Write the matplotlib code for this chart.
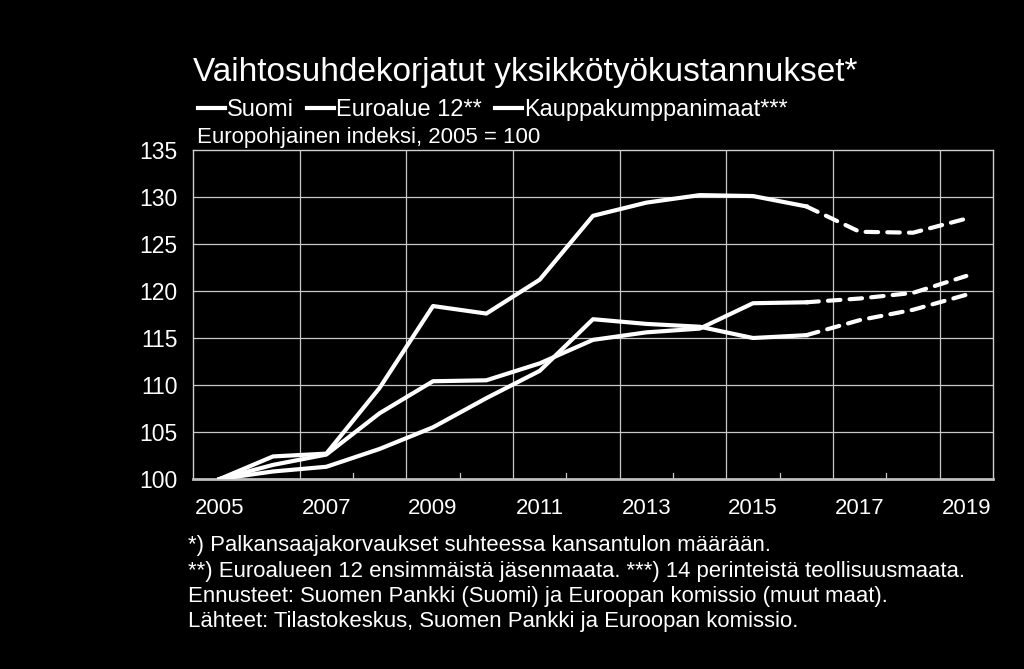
import matplotlib
matplotlib.use("Agg")
import matplotlib.pyplot as plt
from matplotlib.lines import Line2D

plt.rcParams['font.family'] = ['Liberation Sans', 'DejaVu Sans']

years = list(range(2005, 2020))
suomi = [100.0, 102.4, 102.7, 109.7, 118.4, 117.6, 121.2, 128.0, 129.4, 130.2, 130.1, 129.0, 126.3, 126.2, 127.7]
euroalue = [100.0, 101.5, 102.6, 107.0, 110.4, 110.5, 112.3, 114.8, 115.6, 116.0, 118.7, 118.8, 119.2, 119.8, 121.6]
kauppa = [100.0, 100.8, 101.3, 103.2, 105.5, 108.6, 111.5, 117.0, 116.5, 116.2, 115.0, 115.3, 116.9, 118.0, 119.6]
series = [("Suomi", suomi), ("Euroalue 12**", euroalue), ("Kauppakumppanimaat***", kauppa)]
forecast_start = 2016

title = "Vaihtosuhdekorjatut yksikkötyökustannukset*"
subtitle = "Europohjainen indeksi, 2005 = 100"
footnotes = [
    "*) Palkansaajakorvaukset suhteessa kansantulon määrään.",
    "**) Euroalueen 12 ensimmäistä jäsenmaata. ***) 14 perinteistä teollisuusmaata.",
    "Ennusteet: Suomen Pankki (Suomi) ja Euroopan komissio (muut maat).",
    "Lähteet: Tilastokeskus, Suomen Pankki ja Euroopan komissio.",
]
x_labels = [str(y) if (y - 2005) % 2 == 0 else "" for y in years]

fig = plt.figure(figsize=(10.24, 6.69), dpi=100, facecolor='black')
ax = fig.add_axes([193/1024, 1-479/669, 800/1024, 329/669], facecolor='black')

x = list(range(len(years)))
fi = years.index(forecast_start)
handles = []
for name, vals in series:
    ax.plot(x[:fi+1], vals[:fi+1], color='white', lw=3.0, solid_joinstyle='round', zorder=3)
    ax.plot(x[fi:], vals[fi:], color='white', lw=3.0, dashes=(3.0, 2.2), dash_capstyle='round', zorder=3)
    handles.append(Line2D([], [], color='white', lw=3.0, label=name))

ax.set_xlim(-0.5, len(years) - 0.5)
ax.set_ylim(100, 135)
ax.set_yticks(range(100, 136, 5))
ax.set_xticks(x)
ax.set_xticklabels(x_labels)
ax.tick_params(axis='both', length=0, colors='white', labelsize=16)
ax.tick_params(axis='x', pad=14)
ax.tick_params(axis='y', pad=11, labelsize=16.5)

# gridlines
for g in [1.5, 3.5, 5.5, 7.5, 9.5, 11.5, 13.5]:
    ax.axvline(g, color='#c8c8c8', lw=0.9, zorder=1)
for v in range(105, 135, 5):
    ax.axhline(v, color='#c8c8c8', lw=0.9, zorder=1)
for t in [2.5, 4.5, 6.5, 8.5, 10.5, 12.5]:
    ax.plot([t, t], [100, 100.6], color='#c8c8c8', lw=0.9, zorder=1, clip_on=False)

for s in ['left', 'top', 'right']:
    ax.spines[s].set_color('#d0d0d0')
    ax.spines[s].set_linewidth(1.0)
ax.spines['bottom'].set_color('#c0c0c0')
ax.spines['bottom'].set_linewidth(2.0)

fig.text(193/1024, 1-73/669, title, color='white', fontsize=24, va='center', ha='left')
leg = fig.legend(handles=handles, loc='center left', bbox_to_anchor=(198/1024, 1-110/669),
                 ncol=3, frameon=False, fontsize=17, handlelength=1.15, handletextpad=0.08,
                 columnspacing=0.55, borderaxespad=0, borderpad=0)
for t in leg.get_texts():
    t.set_color('white')
fig.text(197/1024, 1-138/669, subtitle, color='white', fontsize=16, va='center', ha='left')

for i, line in enumerate(footnotes):
    fig.text(188/1024, 1-(546 + 25.3*i)/669, line, color='white', fontsize=15.9, va='center', ha='left')

fig.savefig("out.png", dpi=100, facecolor='black')
